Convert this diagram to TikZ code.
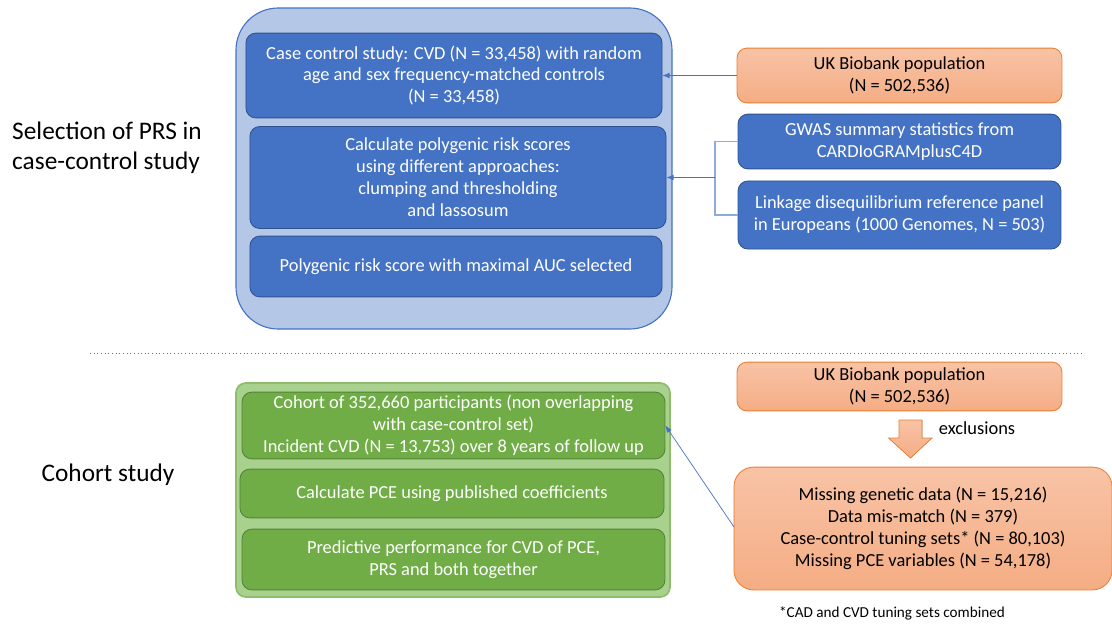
\documentclass[tikz,border=0pt]{standalone}
\usepackage{fontspec}
\setmainfont{Carlito}
\usetikzlibrary{positioning,arrows.meta}

\definecolor{bluefill}{HTML}{4472C4}
\definecolor{blueedge}{HTML}{2F528F}
\definecolor{bluepale}{HTML}{B4C7E7}
\definecolor{bluelink}{HTML}{8FAADC}
\definecolor{greenfill}{HTML}{70AD47}
\definecolor{greenedge}{HTML}{548235}
\definecolor{greenpale}{HTML}{A9D18E}
\definecolor{orangetop}{HTML}{F8C3A6}
\definecolor{orangebot}{HTML}{F4AD84}
\definecolor{orangeedge}{HTML}{ED7D31}

\begin{document}
\begin{tikzpicture}[
  x=0.025cm, y=-0.025cm,
  font=\fontsize{13.1}{15.6}\selectfont,
  panel/.style={draw=bluefill, line width=.8pt, fill=bluepale, rounded corners=30pt},
  gpanel/.style={draw=greenfill!80!white, line width=1.2pt, fill=greenpale, rounded corners=7pt},
  bbox/.style={draw=blueedge, line width=.6pt, fill=bluefill, rounded corners=7pt,
               text=white, align=center, inner sep=0pt},
  gbox/.style={draw=greenedge, line width=.6pt, fill=greenfill, rounded corners=7pt,
               text=white, align=center, inner sep=0pt},
  obox/.style={draw=orangeedge, line width=.6pt, top color=orangetop, bottom color=orangebot,
               rounded corners=7pt, align=center, inner sep=0pt},
  side/.style={font=\fontsize{18}{21.3}\selectfont, align=left},
  flow/.style={-{Latex[length=5pt,width=4pt]}, draw=bluefill, line width=.5pt},
  link/.style={draw=bluelink, line width=.8pt}
]
  \useasboundingbox (0,0) rectangle (1112,625);

  % case-control part
  \node[side] (selab) at (107,148) {Selection of PRS in\\case-control study};
  \path[panel] (236,8) rectangle (672,329);
  \node[bbox, minimum width=10.4cm, minimum height=2.12cm] (casectl) at (454,75.5)
    {Case control study: CVD (N = 33,458) with random\\age and sex frequency-matched controls\\(N = 33,458)};
  \node[bbox, minimum width=10.4cm, minimum height=2.55cm] (calcprs) at (458,177.5)
    {Calculate polygenic risk scores\\using different approaches:\\clumping and thresholding\\and lassosum};
  \node[bbox, minimum width=10.3cm, minimum height=1.52cm] (maxauc) at (456,266.5)
    {Polygenic risk score with maximal AUC selected};

  \node[obox, minimum width=8.12cm, minimum height=1.37cm] (ukbtop) at (899.5,75.5)
    {UK Biobank population\\(N = 502,536)};
  \node[bbox, minimum width=8.07cm, minimum height=1.37cm] (gwas) at (899.5,141.5)
    {GWAS summary statistics from\\CARDIoGRAMplusC4D};
  \node[bbox, minimum width=8.07cm, minimum height=1.7cm] (ldref) at (899.5,215)
    {Linkage disequilibrium reference panel\\in Europeans (1000 Genomes, N = 503)};

  \coordinate (brk) at (715,177.5);
  \draw[link] (gwas.west) -| (brk) |- (ldref.west);
  \draw[flow] (brk) -- (calcprs.east);
  \draw[flow] (ukbtop.west) -- (casectl.east);

  \draw[bluefill, dotted, line width=.6pt] (90,353) -- (1082,353);

  % cohort part
  \node[side] (colab) at (108,475) {Cohort study};
  \path[gpanel] (236,383) rectangle (670,597);
  \node[gbox, minimum width=10.57cm, minimum height=1.67cm] (cohort) at (453.5,425.5)
    {Cohort of 352,660 participants (non overlapping\\with case-control set)\\Incident CVD (N = 13,753) over 8 years of follow up};
  \node[gbox, minimum width=10.6cm, minimum height=1.22cm] (pce) at (452,493.5)
    {Calculate PCE using published coefficients};
  \node[gbox, minimum width=10.57cm, minimum height=1.52cm] (perf) at (453.5,559.5)
    {Predictive performance for CVD of PCE,\\PRS and both together};

  \node[obox, minimum width=8.12cm, minimum height=1.22cm] (ukbbot) at (899.5,386.5)
    {UK Biobank population\\(N = 502,536)};
  \node[obox, rounded corners=14pt, minimum width=9.45cm, minimum height=3.07cm] (excl) at (923,528.5)
    {Missing genetic data (N = 15,216)\\Data mis-match (N = 379)\\Case-control tuning sets* (N = 80,103)\\Missing PCE variables (N = 54,178)};

  \coordinate (dn) at (910.5,420);
  \filldraw[draw=orangeedge, line width=.5pt, top color=orangetop, bottom color=orangebot]
    (dn) ++(-11.5,0) -- ++(23,0) -- ++(0,18) -- ++(10,0) -- (910.5,458)
    -- (888.5,438) -- ++(10.5,0) -- cycle;
  \node[anchor=west] (exlab) at (934,428) {exclusions};

  \coordinate (exin) at (734,527);
  \draw[flow] (exin) -- (cohort.east);

  \node[font=\fontsize{10.8}{12}\selectfont] (note) at (892,613) {*CAD and CVD tuning sets combined};
\end{tikzpicture}
\end{document}
